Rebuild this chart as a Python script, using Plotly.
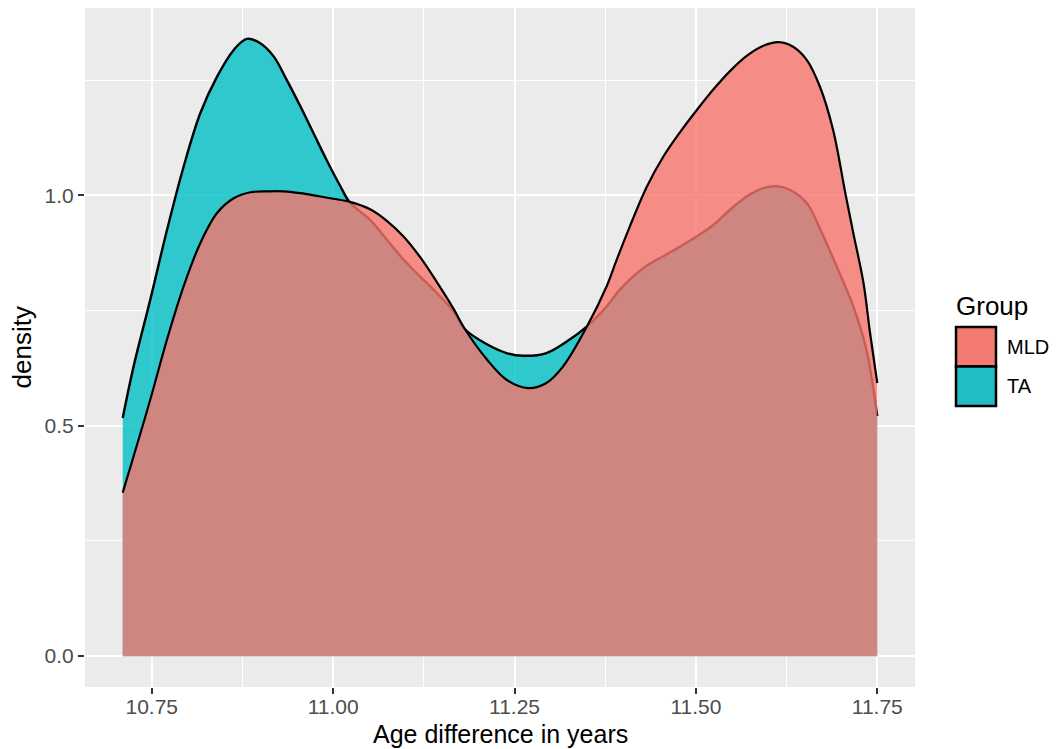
import plotly.graph_objects as go

# ---------------- data ----------------
groups = ["MLD", "TA"]

ta_x = [10.710, 10.725, 10.748, 10.771, 10.794, 10.817, 10.840, 10.863, 10.881, 10.899,
        10.918, 10.936, 10.955, 10.973, 10.991, 11.010, 11.023, 11.051, 11.074, 11.097,
        11.120, 11.143, 11.166, 11.182, 11.212, 11.239, 11.262, 11.294, 11.322, 11.350,
        11.377, 11.395, 11.428, 11.455, 11.478, 11.501, 11.524, 11.547, 11.570, 11.593,
        11.611, 11.630, 11.653, 11.671, 11.694, 11.717, 11.735, 11.750]
ta_y = [0.517, 0.629, 0.774, 0.925, 1.063, 1.179, 1.258, 1.316, 1.340, 1.331,
        1.302, 1.251, 1.193, 1.135, 1.077, 1.020, 0.985, 0.947, 0.904, 0.861,
        0.824, 0.788, 0.748, 0.709, 0.677, 0.658, 0.652, 0.658, 0.683, 0.716,
        0.759, 0.795, 0.843, 0.868, 0.889, 0.911, 0.936, 0.969, 0.998, 1.016,
        1.020, 1.012, 0.983, 0.928, 0.846, 0.759, 0.665, 0.521]

mld_x = [10.710, 10.725, 10.748, 10.771, 10.794, 10.817, 10.840, 10.863, 10.886, 10.910,
         10.932, 10.955, 10.978, 11.000, 11.023, 11.051, 11.074, 11.097, 11.120, 11.143,
         11.166, 11.182, 11.212, 11.239, 11.269, 11.294, 11.317, 11.350, 11.377, 11.390,
         11.409, 11.432, 11.455, 11.478, 11.501, 11.524, 11.547, 11.570, 11.593, 11.614,
         11.634, 11.653, 11.671, 11.689, 11.706, 11.717, 11.731, 11.740, 11.750]
mld_y = [0.355, 0.434, 0.557, 0.687, 0.803, 0.897, 0.962, 0.994, 1.007, 1.009,
         1.009, 1.005, 0.999, 0.993, 0.986, 0.970, 0.945, 0.911, 0.866, 0.812,
         0.754, 0.709, 0.644, 0.600, 0.582, 0.593, 0.629, 0.716, 0.803, 0.857,
         0.933, 1.018, 1.084, 1.137, 1.185, 1.230, 1.270, 1.303, 1.325, 1.333,
         1.323, 1.294, 1.236, 1.143, 1.005, 0.918, 0.810, 0.702, 0.593]

x_ticks = [10.75, 11.00, 11.25, 11.50, 11.75]
x_tick_labels = ["10.75", "11.00", "11.25", "11.50", "11.75"]
y_ticks = [0.0, 0.5, 1.0]
y_tick_labels = ["0.0", "0.5", "1.0"]

# ---------------- styling ----------------
OFF = 8  # page body margin offset
W, H = 1059 - OFF, 749 - OFF
ML, MT = 85 - OFF, 8 - OFF
PR, PB = 915 - OFF, 687 - OFF
MR, MB = W - PR, H - PB
PW, PH = W - ML - MR, H - MT - MB
FONT = "Liberation Sans, Arial, Helvetica, sans-serif"

fill_colors = {"MLD": "rgba(248,118,109,0.8)", "TA": "rgba(0,191,196,0.8)"}
key_colors = {"MLD": "#F37971", "TA": "#22BDC3"}


def px_x(p):
    return (p - OFF - ML) / PW


def px_y(p):
    return (H - MB - (p - OFF)) / PH


fig = go.Figure()
# TA drawn first, MLD on top (as in reference)
fig.add_trace(go.Scatter(x=ta_x, y=ta_y, mode="lines", fill="tozeroy",
                         fillcolor=fill_colors["TA"],
                         line=dict(color="black", width=2.4, shape="spline", smoothing=1.0),
                         name="TA", showlegend=False, hoverinfo="skip"))
fig.add_trace(go.Scatter(x=mld_x, y=mld_y, mode="lines", fill="tozeroy",
                         fillcolor=fill_colors["MLD"],
                         line=dict(color="black", width=2.2, shape="spline", smoothing=1.0),
                         name="MLD", showlegend=False, hoverinfo="skip"))

xmin, xmax = min(ta_x + mld_x), max(ta_x + mld_x)
ymax = max(ta_y + mld_y)
xpad = 0.05 * (xmax - xmin)
ypad = 0.05 * ymax

fig.update_layout(
    width=W, height=H,
    margin=dict(l=ML, r=MR, t=MT, b=MB),
    paper_bgcolor="white",
    plot_bgcolor="#EBEBEB",
    font=dict(family=FONT, color="#4D4D4D"),
    showlegend=False,
    xaxis=dict(range=[xmin - xpad, xmax + xpad], tickvals=x_ticks, ticktext=x_tick_labels,
               showgrid=True, gridcolor="white", gridwidth=2, zeroline=False,
               ticks="outside", ticklen=6, tickwidth=1.5, tickcolor="#333333",
               ticklabelstandoff=-5,
               tickfont=dict(size=21, color="#4D4D4D", family=FONT),
               minor=dict(dtick=0.125, tick0=10.75, showgrid=True, gridcolor="white", gridwidth=1),
               showline=False),
    yaxis=dict(range=[-ypad, ymax + ypad], tickvals=y_ticks, ticktext=y_tick_labels,
               showgrid=True, gridcolor="white", gridwidth=2, zeroline=False,
               ticks="outside", ticklen=6, tickwidth=1.5, tickcolor="#333333",
               tickfont=dict(size=21, color="#4D4D4D", family=FONT),
               minor=dict(dtick=0.25, tick0=0, showgrid=True, gridcolor="white", gridwidth=1),
               showline=False),
)

annotations = [
    dict(text="Age difference in years", xref="paper", yref="paper", x=0.5, y=px_y(734),
         xanchor="center", yanchor="middle", showarrow=False,
         font=dict(size=25, color="black", family=FONT)),
    dict(text="density", xref="paper", yref="paper", x=px_x(21), y=0.5, textangle=-90,
         xanchor="center", yanchor="middle", showarrow=False,
         font=dict(size=26, color="black", family=FONT)),
    dict(text="Group", xref="paper", yref="paper", x=px_x(954), y=px_y(306),
         xanchor="left", yanchor="middle", showarrow=False,
         font=dict(size=26, color="black", family=FONT)),
]

shapes = []
key_top = 327
key_h = 39.5
for i, g in enumerate(groups):
    y0 = key_top + i * key_h
    shapes.append(dict(type="rect", xref="paper", yref="paper",
                       x0=px_x(956), x1=px_x(996), y0=px_y(y0 + key_h), y1=px_y(y0),
                       fillcolor=key_colors[g], line=dict(color="black", width=2.5), layer="above"))
    annotations.append(dict(text=g, xref="paper", yref="paper", x=px_x(1005),
                            y=px_y(y0 + key_h / 2), xanchor="left", yanchor="middle",
                            showarrow=False, font=dict(size=20, color="black", family=FONT)))

fig.update_layout(annotations=annotations, shapes=shapes)

fig.write_html("out.html")
